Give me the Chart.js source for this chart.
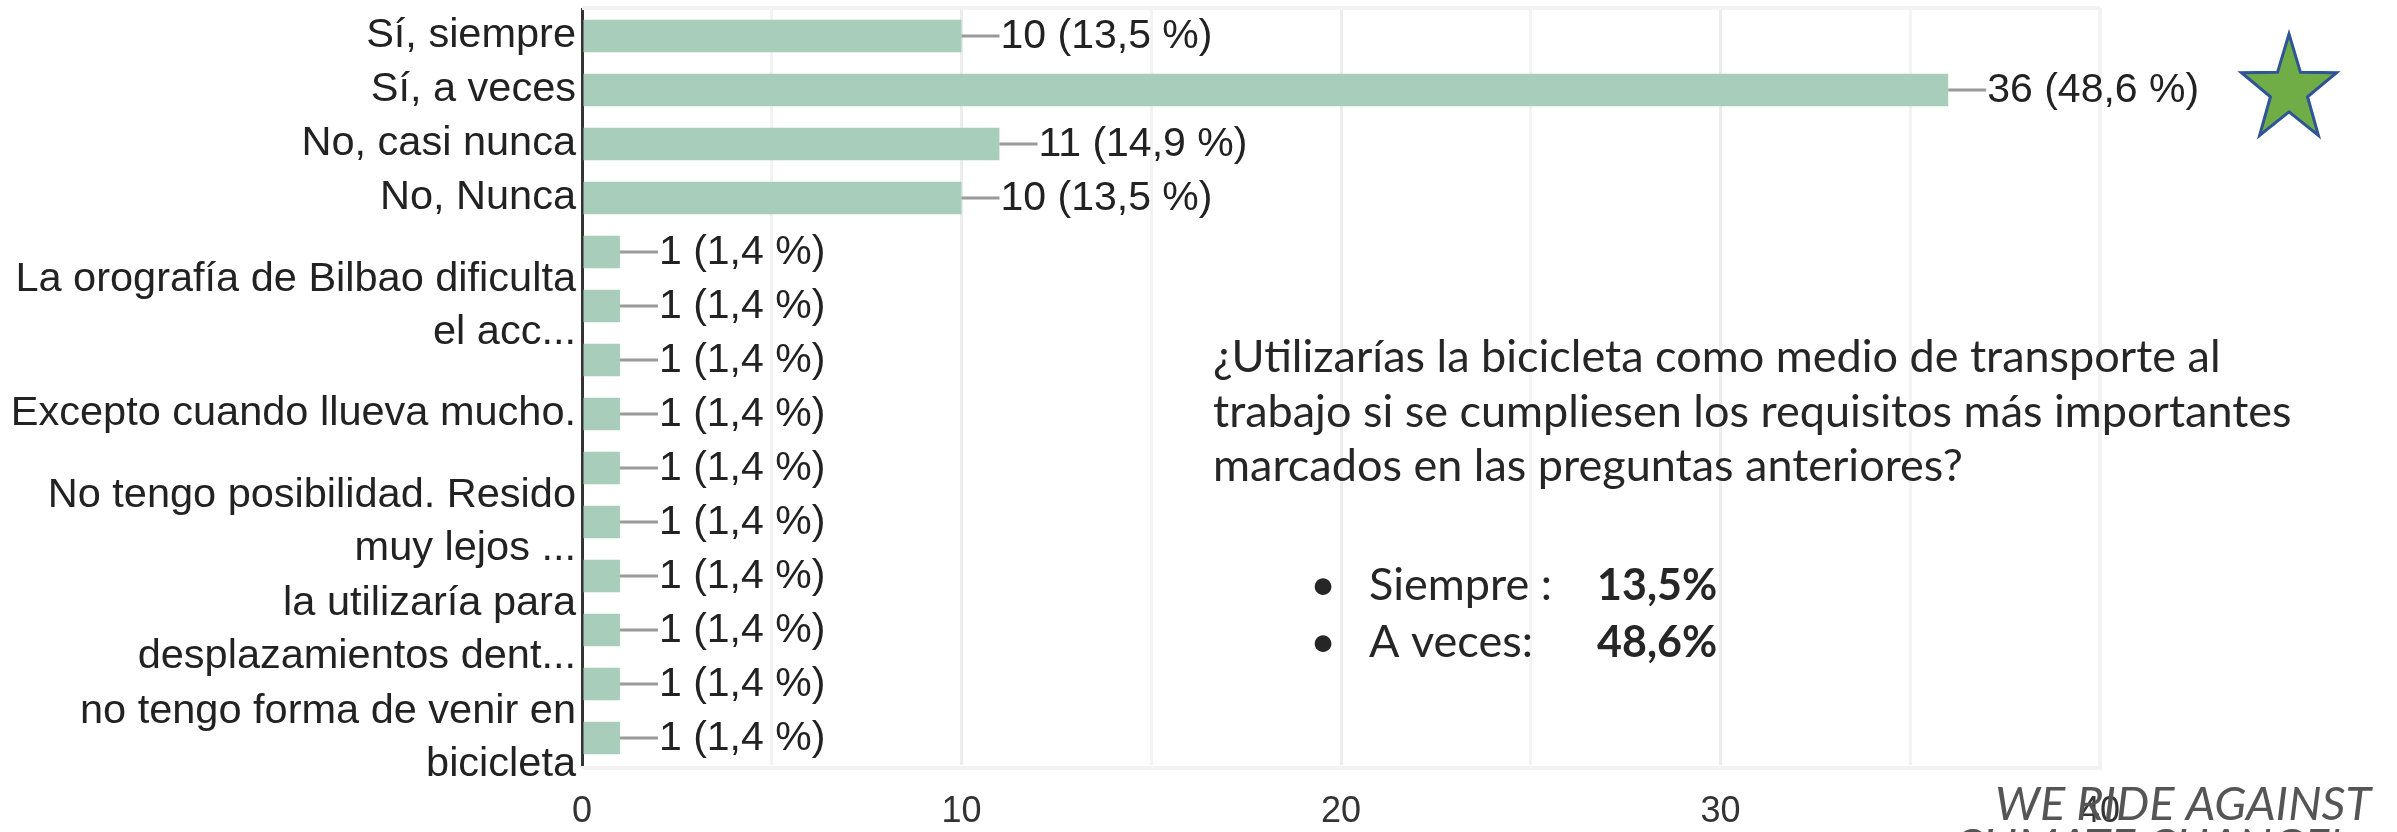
<!DOCTYPE html>
<html>
<head>
<meta charset="utf-8">
<script src="https://cdn.jsdelivr.net/npm/chart.js@4.4.1/dist/chart.umd.min.js"></script>
<style>
  html, body { margin: 0; padding: 0; background: #fff; }
  #wrap { position: relative; width: 2397px; height: 832px; }
</style>
</head>
<body>
<div id="wrap"><canvas id="surveyChart"></canvas></div>
<script>
// Survey answers, as Google Forms drew them (hidden labels left blank)
const categories = [
  "Sí, siempre",
  "Sí, a veces",
  "No, casi nunca",
  "No, Nunca",
  "",
  ["La orografía de Bilbao dificulta", "el acc..."],
  "",
  "Excepto cuando llueva mucho.",
  "",
  ["No tengo posibilidad. Resido", "muy lejos ..."],
  "",
  ["la utilizaría para", "desplazamientos dent..."],
  "",
  ["no tengo forma de venir en", "bicicleta"],
];
const responses = [10, 36, 11, 10, 1, 1, 1, 1, 1, 1, 1, 1, 1, 1];
const percents = [
  "13,5 %", "48,6 %", "14,9 %", "13,5 %",
  "1,4 %", "1,4 %", "1,4 %", "1,4 %", "1,4 %",
  "1,4 %", "1,4 %", "1,4 %", "1,4 %", "1,4 %",
];
const xTickLabels = [0, 10, 20, 30, 40];

const questionLines = [
  "¿Utilizarías la bicicleta como medio de transporte al",
  "trabajo si se cumpliesen los requisitos más importantes",
  "marcados en las preguntas anteriores?",
];
const summaryNames = ["Siempre :", "A veces:"];
const summaryValues = ["13,5%", "48,6%"];
const slogan = ["WE RIDE AGAINST", "CLIMATE CHANGE!"];

const SANS = '"Liberation Sans", Arial, sans-serif';
const BAR_COLOR = "#a8cebb";

// "—10 (13,5 %)" leader line + label at the end of each bar
const valueLabels = {
  id: "valueLabels",
  afterDatasetsDraw(chart) {
    const ctx = chart.ctx;
    const meta = chart.getDatasetMeta(0);
    ctx.save();
    ctx.font = "41px " + SANS;
    ctx.textBaseline = "middle";
    ctx.textAlign = "left";
    meta.data.forEach((bar, i) => {
      ctx.strokeStyle = "#9a9a9a";
      ctx.lineWidth = 3;
      ctx.beginPath();
      ctx.moveTo(bar.x, bar.y);
      ctx.lineTo(bar.x + 38, bar.y);
      ctx.stroke();
      ctx.fillStyle = "#222";
      ctx.fillText(responses[i] + " (" + percents[i] + ")", bar.x + 39, bar.y + 1);
    });
    ctx.restore();
  },
};

// faint border round the plot (top, right, bottom)
const plotFrame = {
  id: "plotFrame",
  beforeDatasetsDraw(chart) {
    const { ctx, chartArea: a } = chart;
    ctx.save();
    ctx.strokeStyle = "#f3f3f3";
    ctx.lineWidth = 4;
    ctx.beginPath();
    ctx.moveTo(a.left, a.top - 1);
    ctx.lineTo(a.right, a.top - 1);
    ctx.moveTo(a.right, a.top - 1);
    ctx.lineTo(a.right, a.bottom + 3);
    ctx.moveTo(a.left, a.bottom + 3);
    ctx.lineTo(a.right + 2, a.bottom + 3);
    ctx.stroke();
    ctx.restore();
  },
};

// slide text, star and slogan drawn over the chart
const slideOverlay = {
  id: "slideOverlay",
  afterDraw(chart) {
    const ctx = chart.ctx;
    ctx.save();
    ctx.textBaseline = "alphabetic";
    ctx.textAlign = "left";
    ctx.fillStyle = "#262626";
    ctx.font = "45px Lato, sans-serif";
    questionLines.forEach((line, i) => ctx.fillText(line, 1213, 372 + i * 54.5));

    summaryNames.forEach((name, i) => {
      const y = 600 + i * 57;
      ctx.font = "45px Lato, sans-serif";
      ctx.fillText("•", 1310, y);
      ctx.fillText(name, 1369, y);
      ctx.font = "bold 43px Lato, sans-serif";
      ctx.fillText(summaryValues[i], 1597, y);
    });

    ctx.fillStyle = "#555";
    ctx.font = "italic 47px Lato, sans-serif";
    ctx.fillText(slogan[0], 1995, 820);
    ctx.fillText(slogan[1], 1953, 862);

    // five-pointed star
    const cx = 2289, cy = 90, rx = 50, ry = 56, inner = 0.39;
    ctx.beginPath();
    for (let k = 0; k < 10; k++) {
      const ang = -Math.PI / 2 + (k * Math.PI) / 5;
      const f = k % 2 === 0 ? 1 : inner;
      const px = cx + Math.cos(ang) * rx * f;
      const py = cy + Math.sin(ang) * ry * f;
      if (k === 0) ctx.moveTo(px, py);
      else ctx.lineTo(px, py);
    }
    ctx.closePath();
    ctx.fillStyle = "#70ad47";
    ctx.fill();
    ctx.strokeStyle = "#2f5597";
    ctx.lineWidth = 3;
    ctx.stroke();
    ctx.restore();
  },
};

new Chart(document.getElementById("surveyChart"), {
  type: "bar",
  data: {
    labels: categories,
    datasets: [
      {
        data: responses,
        backgroundColor: BAR_COLOR,
        borderWidth: 0,
        categoryPercentage: 1,
        barPercentage: 0.6,
      },
    ],
  },
  options: {
    indexAxis: "y",
    responsive: true,
    maintainAspectRatio: false,
    animation: false,
    layout: { padding: { top: 9, right: 297, left: 0, bottom: 0 } },
    plugins: { legend: { display: false }, tooltip: { enabled: false } },
    scales: {
      x: {
        min: 0,
        max: 40,
        afterFit: (s) => { s.height = 67; },
        grid: {
          drawTicks: false,
          lineWidth: 3,
          color: (c) => {
            const v = c.tick ? c.tick.value : null;
            if (v === 0) return "rgba(0,0,0,0)";
            return v % 10 === 0 ? "#ececec" : "#f3f3f3";
          },
        },
        border: { display: false },
        ticks: {
          stepSize: 5,
          padding: 25,
          color: "#333",
          font: { family: SANS, size: 36 },
          callback: (v) => (xTickLabels.includes(v) ? String(v) : ""),
        },
      },
      y: {
        afterFit: (s) => {
          s.width = 582;
          s.paddingTop = 0;
          s.paddingBottom = 0;
        },
        grid: { display: false, drawTicks: false },
        border: { display: true, color: "#333", width: 3 },
        ticks: {
          autoSkip: false,
          padding: 6,
          color: "#222",
          font: { family: SANS, size: 41.5, lineHeight: 1.29 },
        },
      },
    },
  },
  plugins: [plotFrame, valueLabels, slideOverlay],
});
</script>
</body>
</html>
